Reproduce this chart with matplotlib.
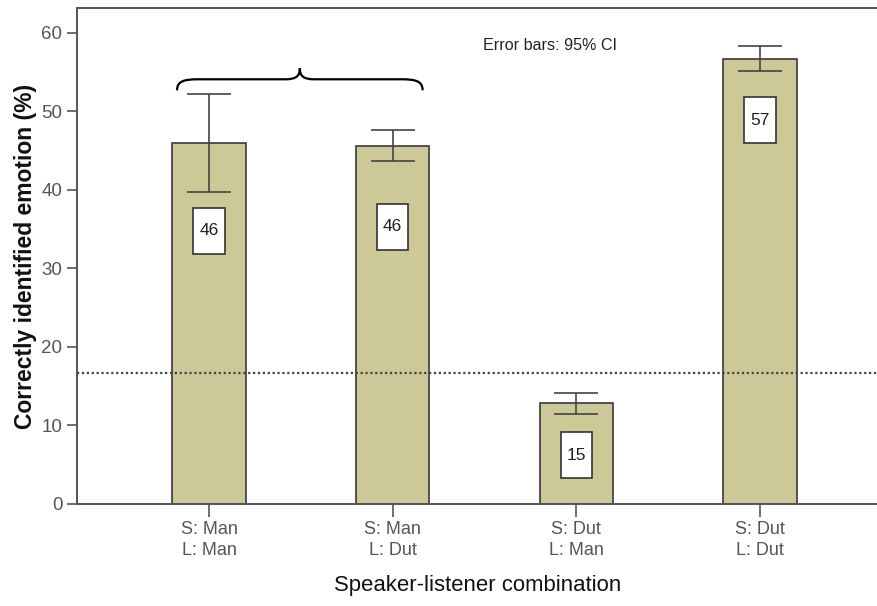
import matplotlib
matplotlib.use("Agg")
import matplotlib.pyplot as plt
from matplotlib.patches import Rectangle, PathPatch
from matplotlib.path import Path

plt.rcParams['font.family'] = ['Liberation Sans', 'DejaVu Sans']

# Data
categories = ["S: Man\nL: Man", "S: Man\nL: Dut", "S: Dut\nL: Man", "S: Dut\nL: Dut"]
means = [46.0, 45.6, 12.9, 56.7]
ci_low = [39.8, 43.7, 11.5, 55.2]
ci_high = [52.2, 47.6, 14.2, 58.3]
value_labels = ["46", "46", "15", "57"]
chance_level = 100 / 6
yticks = [0, 10, 20, 30, 40, 50, 60]

# Layout of the boxed value labels (box centre, in axis units)
label_y = [34.8, 35.3, 6.2, 48.9]

bar_color = "#cdc897"
edge_color = "#3a3a3a"
axis_color = "#555555"

fig = plt.figure(figsize=(8.78, 6.06), dpi=100)
ax = fig.add_axes([77 / 878, 1 - 504 / 606, 1 - 77 / 878, (504 - 8) / 606])

x = list(range(len(categories)))
ax.bar(x, means, width=0.4, color=bar_color, edgecolor=edge_color,
       linewidth=1.2, zorder=2)

yerr = [[m - lo for m, lo in zip(means, ci_low)],
        [hi - m for m, hi in zip(means, ci_high)]]
ax.errorbar(x, means, yerr=yerr, fmt="none", ecolor="#444444",
            elinewidth=1.2, capsize=15.8, capthick=1.2, zorder=3)

# Chance level
ax.axhline(chance_level, color="#444444", linewidth=1.6,
           linestyle=(0, (1, 1.2)), zorder=4)

# Boxed value labels
box_w, box_h = 0.169, 5.86
for xi, yc, txt in zip(x, label_y, value_labels):
    ax.add_patch(Rectangle((xi - box_w / 2, yc - box_h / 2), box_w, box_h,
                           facecolor="white", edgecolor="#333333",
                           linewidth=1.2, zorder=5))
    ax.text(xi, yc, txt, ha="center", va="center", fontsize=12.5,
            color="#222222", zorder=6)

# Curly brace over the first two bars
xl, xr = -0.174, 1.163
xc = (xl + xr) / 2
y0, y1, yp = 52.7, 54.1, 55.5
verts = [
    (xl, y0),
    (xl, y1 - 0.2), (xl + 0.04, y1), (xl + 0.12, y1),
    (xc - 0.08, y1),
    (xc - 0.02, y1), (xc, y1 + 0.4), (xc, yp),
    (xc, y1 + 0.4), (xc + 0.02, y1), (xc + 0.08, y1),
    (xr - 0.12, y1),
    (xr - 0.04, y1), (xr, y1 - 0.2), (xr, y0),
]
codes = [Path.MOVETO,
         Path.CURVE4, Path.CURVE4, Path.CURVE4,
         Path.LINETO,
         Path.CURVE4, Path.CURVE4, Path.CURVE4,
         Path.CURVE4, Path.CURVE4, Path.CURVE4,
         Path.LINETO,
         Path.CURVE4, Path.CURVE4, Path.CURVE4]
ax.add_patch(PathPatch(Path(verts, codes), facecolor="none",
                       edgecolor="black", linewidth=1.6, zorder=5,
                       clip_on=False))

ax.text(0.590, 0.925, "Error bars: 95% CI", transform=ax.transAxes,
        ha="center", va="center", fontsize=11.6, color="#222222")

# Axes styling
ax.set_xlim(-0.7187, 3.6425)
ax.set_ylim(0, 63.18)
ax.set_yticks(yticks)
ax.set_xticks(x)
ax.set_xticklabels(categories, fontsize=13, color=axis_color, linespacing=1.3)
ax.tick_params(axis="y", labelsize=13.5, labelcolor=axis_color,
               color=axis_color, length=7, width=1.2)
ax.tick_params(axis="x", color=axis_color, length=9, width=1.2, pad=3)
for side in ("left", "bottom", "top"):
    ax.spines[side].set_color(axis_color)
    ax.spines[side].set_linewidth(1.4)
ax.spines["right"].set_visible(False)

ax.set_ylabel("Correctly identified emotion (%)", fontsize=16.5,
              fontweight="bold", color="#111111", labelpad=3)
ax.set_xlabel("Speaker-listener combination", fontsize=15.9,
              color="#111111", labelpad=12)

fig.savefig("out.png", dpi=100)
